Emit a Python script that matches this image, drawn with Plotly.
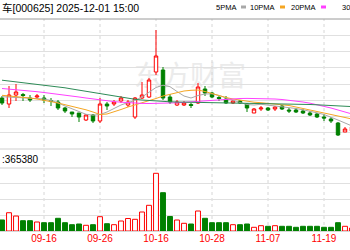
import plotly.graph_objects as go

dates = ["09-08","09-09","09-10","09-11","09-12","09-15","09-16","09-17","09-18","09-19",
         "09-22","09-23","09-24","09-25","09-26","09-29","09-30","10-09","10-10","10-13",
         "10-14","10-15","10-16","10-17","10-20","10-21","10-22","10-23","10-24","10-27",
         "10-28","10-29","10-30","10-31","11-03","11-04","11-05","11-06","11-07","11-10",
         "11-11","11-12","11-13","11-14","11-17","11-18","11-19","11-20","11-21","11-24","11-25"]

open_ = [12.51,12.45,12.54,12.545,12.51,12.52,12.51,12.485,12.47,12.41,
         12.37,12.36,12.29,12.34,12.28,12.45,12.45,12.48,12.44,12.32,
         12.51,12.52,12.77,12.79,12.52,12.44,12.44,12.445,12.46,12.60,
         12.56,12.515,12.50,12.46,12.48,12.45,12.36,12.40,12.41,12.40,
         12.43,12.39,12.39,12.38,12.36,12.35,12.32,12.30,12.26,12.17,12.18]
high = [12.53,12.63,12.65,12.56,12.54,12.55,12.54,12.51,12.49,12.42,
        12.37,12.36,12.35,12.35,12.51,12.47,12.49,12.53,12.49,12.52,
        12.67,12.71,13.19,12.82,12.55,12.49,12.48,12.46,12.66,12.63,
        12.57,12.53,12.53,12.49,12.49,12.46,12.41,12.43,12.42,12.43,
        12.44,12.41,12.41,12.40,12.38,12.36,12.35,12.32,12.27,12.22,12.24]
low = [12.44,12.41,12.48,12.48,12.47,12.50,12.46,12.43,12.39,12.36,
       12.32,12.27,12.28,12.26,12.26,12.39,12.43,12.46,12.42,12.30,
       12.50,12.51,12.74,12.49,12.45,12.43,12.43,12.41,12.45,12.53,
       12.51,12.48,12.45,12.45,12.45,12.37,12.36,12.38,12.38,12.38,
       12.39,12.36,12.36,12.35,12.33,12.31,12.28,12.26,12.13,12.17,12.17]
close = [12.46,12.54,12.57,12.535,12.49,12.53,12.49,12.475,12.41,12.38,
         12.35,12.32,12.34,12.28,12.45,12.43,12.47,12.51,12.47,12.51,
         12.54,12.69,12.93,12.51,12.47,12.47,12.46,12.435,12.62,12.56,
         12.52,12.505,12.46,12.48,12.46,12.41,12.40,12.41,12.39,12.42,
         12.40,12.38,12.37,12.36,12.34,12.32,12.31,12.28,12.14,12.20,12.22]

volume = [70000,116000,95000,65400,65400,57100,52700,52700,80600,52700,
          40000,44400,36200,40000,90800,46300,40000,63500,79400,74300,
          120600,163200,366300,243200,92100,69800,48900,44400,127000,80600,
          52700,52700,52700,40000,40000,44400,23500,33700,29800,33700,
          29800,29800,23500,29800,29800,29800,23500,23500,52700,29800,19000]

ma5 = [12.523,12.520,12.517,12.514,12.511,12.508,12.500,12.485,12.462,12.430,
       12.400,12.370,12.347,12.338,12.345,12.370,12.405,12.440,12.465,12.485,
       12.520,12.565,12.615,12.638,12.623,12.575,12.530,12.510,12.535,12.550,
       12.552,12.535,12.510,12.485,12.465,12.445,12.440,12.447,12.440,12.432,
       12.425,12.418,12.405,12.392,12.380,12.362,12.345,12.320,12.290,12.260,12.230]
ma10 = [12.537,12.532,12.525,12.518,12.510,12.500,12.488,12.475,12.460,12.443,
        12.427,12.410,12.392,12.370,12.345,12.350,12.370,12.395,12.420,12.440,
        12.460,12.485,12.505,12.530,12.547,12.565,12.580,12.587,12.590,12.575,
        12.555,12.530,12.515,12.500,12.487,12.475,12.468,12.463,12.457,12.450,
        12.443,12.435,12.420,12.405,12.390,12.372,12.357,12.342,12.327,12.312,12.300]
ma20 = [12.605,12.600,12.593,12.587,12.580,12.573,12.565,12.557,12.550,12.540,
        12.530,12.520,12.510,12.500,12.490,12.482,12.474,12.468,12.462,12.458,
        12.456,12.455,12.455,12.456,12.458,12.462,12.467,12.472,12.478,12.484,
        12.490,12.495,12.500,12.503,12.505,12.506,12.506,12.505,12.503,12.500,
        12.495,12.488,12.480,12.470,12.458,12.444,12.428,12.410,12.390,12.370,12.350]
ma30 = [12.688,12.680,12.672,12.664,12.656,12.648,12.640,12.632,12.624,12.612,
        12.600,12.588,12.576,12.566,12.556,12.544,12.532,12.520,12.508,12.497,
        12.490,12.484,12.478,12.474,12.472,12.470,12.469,12.468,12.467,12.466,
        12.465,12.464,12.463,12.462,12.461,12.460,12.459,12.458,12.457,12.455,
        12.454,12.452,12.450,12.448,12.445,12.442,12.439,12.436,12.432,12.428,12.424]

tick_dates = ["09-16", "09-26", "10-16", "10-28", "11-07", "11-19"]
ma_names = ["5PMA", "10PMA", "20PMA", "30"]
title_text = "车[000625] 2025-12-01 15:00"
vol_label = ":365380"

RED = "#ff0000"
GREEN = "#008000"
MA_COLORS = ["#a8a8a8", "#f5a623", "#ff40ff", "#2e8b57"]

W, H = 350, 250
def py(p):  # pixel row -> paper y
    return 1 - p / H
def px(p):
    return p / W

P_MIN, P_MAX = 12.00, 13.30
V_MAX = 400000
XR = [-2 / 7, 348 / 7]

fig = go.Figure()

# watermark below traces
fig.add_shape(type="rect", xref="paper", yref="paper",
              x0=px(110), x1=px(270), y0=py(95), y1=py(60),
              line=dict(width=0), fillcolor="rgba(0,0,0,0)", layer="below",
              label=dict(text="东方财富", font=dict(size=28, color="#ebebeb",
                                               family="Noto Sans CJK SC")))

fig.add_trace(go.Candlestick(
    x=dates, open=open_, high=high, low=low, close=close,
    increasing=dict(line=dict(color=RED, width=1), fillcolor="#ffffff"),
    decreasing=dict(line=dict(color=GREEN, width=1), fillcolor=GREEN),
    whiskerwidth=0, xaxis="x", yaxis="y", showlegend=False, hoverinfo="skip"))

for name, vals, col in zip(ma_names, [ma5, ma10, ma20, ma30], MA_COLORS):
    fig.add_trace(go.Scatter(x=dates, y=vals, mode="lines", name=name,
                             line=dict(color=col, width=1), xaxis="x", yaxis="y",
                             showlegend=False, hoverinfo="skip"))

up = [c >= o for o, c in zip(open_, close)]
fig.add_trace(go.Bar(
    x=dates, y=volume, width=0.7, xaxis="x2", yaxis="y2",
    marker=dict(color=["#ffffff" if u else GREEN for u in up],
                line=dict(color=[RED if u else GREEN for u in up], width=1)),
    showlegend=False, hoverinfo="skip"))

grid = "#e0e0e0"
fig.update_layout(
    width=W, height=H, margin=dict(l=0, r=0, t=0, b=0),
    paper_bgcolor="white", plot_bgcolor="white",
    xaxis=dict(type="category", range=XR, domain=[0, 1], showticklabels=False,
               showgrid=False, zeroline=False, rangeslider=dict(visible=False),
               fixedrange=True),
    yaxis=dict(range=[P_MIN, P_MAX], domain=[py(149), py(19)], showticklabels=False,
               tickmode="array",
               tickvals=[P_MIN + k * (P_MAX - P_MIN) / 8 for k in range(9)],
               showgrid=True, gridcolor=grid, gridwidth=1, zeroline=False),
    xaxis2=dict(type="category", range=XR, domain=[0, 1], anchor="y2",
                tickmode="array", tickvals=tick_dates, ticktext=tick_dates,
                tickfont=dict(size=10, color=RED, family="Liberation Sans"),
                showgrid=False, zeroline=False, ticks=""),
    yaxis2=dict(range=[0, V_MAX], domain=[py(231), py(168)], showticklabels=False,
                tickmode="array", tickvals=[k * V_MAX / 4 for k in range(5)],
                showgrid=True, gridcolor=grid, zeroline=False),
    bargap=0.3,
    showlegend=False,
)

# vertical dashed lines at labelled dates
for d in tick_dates:
    fig.add_shape(type="line", xref="x", yref="paper", x0=d, x1=d,
                  y0=py(231), y1=py(19), line=dict(color="#d6d6d6", width=1, dash="3px,3px"),
                  layer="below")
# frame lines
for yy, col in [(19, "#9a9a9a"), (149, "#cfcfcf"), (168, "#cfcfcf"), (231, "#b0b0b0")]:
    fig.add_shape(type="line", xref="paper", yref="paper", x0=0, x1=1, y0=py(yy), y1=py(yy),
                  line=dict(color=col, width=1), layer="below")

# title
fig.add_annotation(xref="paper", yref="paper", x=0, y=py(8), xanchor="left",
                   yanchor="middle", text=title_text, showarrow=False,
                   font=dict(size=10.5, color="#000", family="Liberation Sans, Noto Sans CJK SC"))
# volume label
fig.add_annotation(xref="paper", yref="paper", x=0, y=py(159), xanchor="left",
                   yanchor="middle", text=vol_label, showarrow=False,
                   font=dict(size=10, color="#000", family="Liberation Sans"))

# legend (text then colour mark)
leg_x = [238, 277, 318, 340]
for i, (name, col) in enumerate(zip(ma_names, MA_COLORS)):
    if i < 3:
        fig.add_annotation(xref="paper", yref="paper", x=px(leg_x[i]), y=py(7),
                           xanchor="right", yanchor="middle", text=name, showarrow=False,
                           font=dict(size=7.5, color="#000", family="Liberation Sans"))
        fig.add_shape(type="rect", xref="paper", yref="paper",
                      x0=px(leg_x[i] + 3), x1=px(leg_x[i] + 8), y0=py(8.5), y1=py(5.5),
                      fillcolor=col, line=dict(width=0))
    else:
        fig.add_annotation(xref="paper", yref="paper", x=px(leg_x[i]), y=py(7),
                           xanchor="left", yanchor="middle", text=name, showarrow=False,
                           font=dict(size=7.5, color="#000", family="Liberation Sans"))

fig.write_html("out.html")
